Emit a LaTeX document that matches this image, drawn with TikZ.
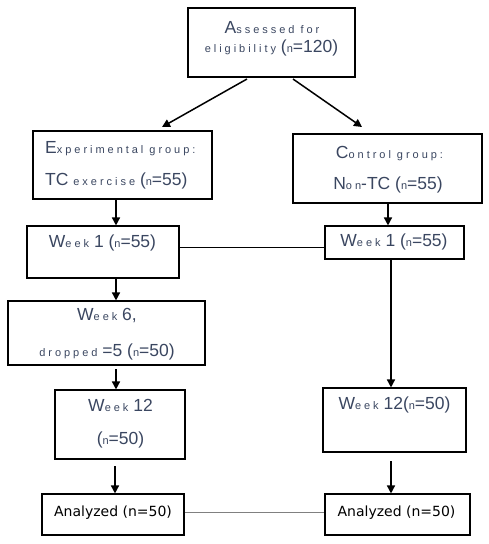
\documentclass[tikz,border=0pt]{standalone}
\usepackage{fontspec}
\setmainfont{Liberation Sans}
\newfontfamily\verdfont{DejaVu Sans}
\usetikzlibrary{arrows.meta}
\definecolor{txt}{HTML}{3A4660}
\newcommand{\Sm}[1]{{\fontsize{11}{13}\selectfont\addfontfeatures{LetterSpace=27}#1}}
\tikzset{
  box/.style={draw, line width=1.1pt, inner sep=0pt},
  lbl/.style={text=txt, inner sep=0pt, font=\fontsize{17.5}{20}\selectfont},
  anl/.style={inner sep=0pt, font=\verdfont\fontsize{14}{16}\selectfont},
  arr/.style={line width=1.5pt, -{Triangle[length=8pt,width=8pt]}},
  link/.style={line width=0.8pt},
}
\begin{document}
\begin{tikzpicture}[x=1pt,y=-1pt]
\useasboundingbox (0,0) rectangle (489,544);
% boxes
\node[box, minimum width=167pt, minimum height=69pt] (top) at (271.5,42.5) {};
\node[box, minimum width=179pt, minimum height=68pt] (exp) at (122.5,165) {};
\node[box, minimum width=189pt, minimum height=69pt] (ctl) at (387.5,168.5) {};
\node[box, minimum width=152pt, minimum height=52pt] (w1l) at (103,252) {};
\node[box, minimum width=139pt, minimum height=33pt] (w1r) at (394.5,242.5) {};
\node[box, minimum width=197pt, minimum height=64pt] (w6) at (106.5,333) {};
\node[box, minimum width=130pt, minimum height=69pt] (w12l) at (120,424.5) {};
\node[box, minimum width=143pt, minimum height=64pt] (w12r) at (394.5,420) {};
\node[box, minimum width=142pt, minimum height=41pt] (anl) at (113,514.5) {};
\node[box, minimum width=145pt, minimum height=41pt] (anr) at (397.5,514.5) {};
% texts
\node[lbl] (t1) at (272,28) {A\Sm{ssessed for}};
\node[lbl] (t2) at (271.5,48) {\Sm{eligibility} (\Sm{n}=120)};
\node[lbl, anchor=west] (e1) at (45,149) {E\Sm{xperimental group:}};
\node[lbl, anchor=west] (e2) at (45,181) {TC \Sm{exercise} (\Sm{n}=55)};
\node[lbl] (c1) at (389.5,154) {C\Sm{ontrol group:}};
\node[lbl] (c2) at (388,185) {N\Sm{on}-TC (\Sm{n}=55)};
\node[lbl] (wl1) at (102.5,243) {W\Sm{eek} 1 (\Sm{n}=55)};
\node[lbl] (wr1) at (394,242) {W\Sm{eek} 1 (\Sm{n}=55)};
\node[lbl] (w61) at (107,316) {W\Sm{eek} 6,};
\node[lbl] (w62) at (107,352) {\Sm{dropped} =5 (\Sm{n}=50)};
\node[lbl] (wl2) at (120.5,405) {W\Sm{eek} 12};
\node[lbl] (wl3) at (120.5,440) {(\Sm{n}=50)};
\node[lbl] (wr2) at (394.5,405) {W\Sm{eek} 12(\Sm{n}=50)};
\node[anl] (a1) at (113,513) {Analyzed (n=50)};
\node[anl] (a2) at (396.5,513) {Analyzed (n=50)};
% connectors
\coordinate (s1) at (247,79);
\coordinate (s2) at (293,79);
\coordinate (d1) at (162,127);
\coordinate (d2) at (362,127);
\draw[arr] (s1) -- (d1);
\draw[arr] (s2) -- (d2);
\draw[arr] (exp.south -| 116,0) -- (w1l.north -| 116,0);
\draw[arr] (ctl.south -| 388,0) -- (w1r.north -| 388,0);
\draw[arr] (w1l.south -| 116,0) -- (w6.north -| 116,0);
\coordinate (s3) at (116,369);
\draw[arr] (s3) -- (w12l.north -| 116,0);
\coordinate (s4) at (115,466);
\draw[arr] (s4) -- (anl.north -| 115,0);
\draw[arr] (w1r.south -| 391,0) -- (w12r.north -| 391,0);
\coordinate (s5) at (391,461);
\draw[arr] (s5) -- (anr.north -| 391,0);
\draw[link] (w1l.east |- 0,247) -- (w1r.west |- 0,247);
\draw[link, gray] (anl.east |- 0,512) -- (anr.west |- 0,512);
\end{tikzpicture}
\end{document}
